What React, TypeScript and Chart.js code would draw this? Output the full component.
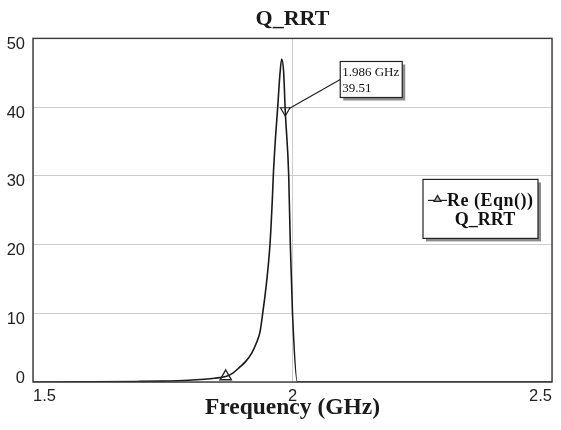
import { useEffect, useRef } from 'react';
import { Chart, registerables } from 'chart.js';

Chart.register(...registerables);

const chartTitle = 'Q_RRT';
const xAxisTitle = 'Frequency (GHz)';
const seriesName = 'Re (Eqn())';
const seriesSub = 'Q_RRT';

const freqs = [
  1.5, 1.6, 1.7, 1.75, 1.8, 1.83, 1.85, 1.8713, 1.885, 1.8988, 1.91, 1.9214, 1.93, 1.9374,
  1.9426, 1.95, 1.9566, 1.9611, 1.963, 1.9672, 1.9715, 1.9755, 1.9792, 1.983, 1.986, 1.9927,
  1.9958, 2.0, 2.0093, 2.1, 2.3, 2.5,
];
const qValues = [
  0.0, 0.03, 0.08, 0.13, 0.25, 0.4, 0.55, 0.8, 1.3, 2.2, 3.0, 4.2, 5.6, 7.3,
  10.0, 14.5, 20.0, 26.5, 30.0, 35.5, 40.0, 44.5, 47.0, 45.0, 39.51, 30.0,
  20.0, 10.0, 0.0, 0.0, 0.0, 0.0,
];

const xTickValues = [1.5, 2, 2.5];
const xTickLabels = ['1.5', '2', '2.5'];
const yTickValues = [0, 10, 20, 30, 40, 50];
const yTickLabels = ['0', '10', '20', '30', '40', '50'];

const traceMarkerFreq = [1.8713];
const traceMarkerValue = [0.8];
const markerFreq = [1.986];
const markerValue = [39.51];

const SERIF = '"Liberation Serif", "Times New Roman", serif';
const SANS = '"Liberation Sans", Arial, sans-serif';

function drawTriangle(ctx: CanvasRenderingContext2D, x: number, y: number, r: number) {
  ctx.beginPath();
  ctx.moveTo(x, y - r);
  ctx.lineTo(x + r * 0.866, y + r * 0.5);
  ctx.lineTo(x - r * 0.866, y + r * 0.5);
  ctx.closePath();
  ctx.fill();
  ctx.stroke();
}

const overlayPlugin = {
  id: 'overlay',
  afterDraw(chart: any) {
    const { ctx, chartArea: a, scales } = chart;
    ctx.save();
    // plot border
    ctx.strokeStyle = '#3a3a3a';
    ctx.lineWidth = 1.4;
    ctx.strokeRect(a.left, a.top, a.right - a.left, a.bottom - a.top);

    // marker callout
    const px = scales.x.getPixelForValue(markerFreq[0]);
    const py = scales.y.getPixelForValue(markerValue[0]);
    const bx = px + 55;
    const by = py - 49;
    const bw = 62;
    const bh = 36;
    ctx.fillStyle = '#8c8c8c';
    ctx.fillRect(bx + 3, by + 3, bw, bh);
    ctx.fillStyle = '#ffffff';
    ctx.fillRect(bx, by, bw, bh);
    ctx.strokeStyle = '#222';
    ctx.lineWidth = 1.2;
    ctx.strokeRect(bx, by, bw, bh);
    ctx.beginPath();
    ctx.moveTo(px + 4, py - 2);
    ctx.lineTo(bx, by + bh / 2);
    ctx.stroke();
    ctx.fillStyle = '#111';
    ctx.font = `13px ${SERIF}`;
    ctx.textAlign = 'left';
    ctx.textBaseline = 'alphabetic';
    ctx.fillText(`${markerFreq[0].toFixed(3)} GHz`, bx + 2, by + 15);
    ctx.fillText(markerValue[0].toFixed(2), bx + 2, by + 31);

    // legend box
    const lx = a.right - 129;
    const ly = a.top + 141;
    const lw = 115;
    const lh = 59;
    ctx.fillStyle = '#8c8c8c';
    ctx.fillRect(lx + 3, ly + 3, lw, lh);
    ctx.fillStyle = '#ffffff';
    ctx.fillRect(lx, ly, lw, lh);
    ctx.strokeStyle = '#222';
    ctx.lineWidth = 1.2;
    ctx.strokeRect(lx, ly, lw, lh);
    ctx.beginPath();
    ctx.moveTo(lx + 5, ly + 21);
    ctx.lineTo(lx + 24, ly + 21);
    ctx.stroke();
    ctx.fillStyle = '#b5b5b5';
    drawTriangle(ctx, lx + 14.5, ly + 20, 4);
    ctx.fillStyle = '#111';
    ctx.font = `bold 18px ${SERIF}`;
    (ctx as any).letterSpacing = '0.5px';
    ctx.fillText(seriesName, lx + 24, ly + 27);
    (ctx as any).letterSpacing = '0px';
    ctx.textAlign = 'center';
    ctx.fillText(seriesSub, lx + 62, ly + 46);
    ctx.restore();
  },
};

export default function App() {
  const ref = useRef<HTMLCanvasElement>(null);
  useEffect(() => {
    document.body.style.margin = '0';
    const canvas = ref.current;
    if (!canvas) return;
    const chart = new Chart(canvas, {
      type: 'scatter',
      data: {
        datasets: [
          {
            label: seriesName,
            data: freqs.map((f, i) => ({ x: f, y: qValues[i] })),
            showLine: true,
            borderColor: '#1a1a1a',
            borderWidth: 1.6,
            pointRadius: 0,
            cubicInterpolationMode: 'monotone',
            order: 3,
          } as any,
          {
            label: 'trace marker',
            data: traceMarkerFreq.map((f, i) => ({ x: f, y: traceMarkerValue[i] })),
            pointStyle: 'triangle',
            pointRadius: 6.5,
            borderColor: '#222',
            borderWidth: 1.4,
            backgroundColor: 'rgba(255,255,255,0)',
            order: 2,
          },
          {
            label: 'marker',
            data: markerFreq.map((f, i) => ({ x: f, y: markerValue[i] })),
            pointStyle: 'triangle',
            rotation: 180,
            pointRadius: 5.5,
            borderColor: '#222',
            borderWidth: 1.2,
            backgroundColor: 'rgba(255,255,255,0)',
            order: 1,
          },
        ],
      },
      options: {
        responsive: false,
        animation: false,
        layout: { padding: { top: 0, right: 9, left: 0, bottom: 0 } },
        plugins: {
          legend: { display: false },
          tooltip: { enabled: false },
          title: {
            display: true,
            text: chartTitle,
            fullSize: false,
            color: '#1a1a1a',
            font: { family: SERIF, size: 22, weight: 'bold' },
            padding: { top: 6, bottom: 6 },
          },
        },
        scales: {
          x: {
            type: 'linear',
            min: 1.5,
            max: 2.5,
            afterFit: (s: any) => {
              s.height = 48;
              s.paddingLeft = 0;
              s.paddingRight = 0;
            },
            afterBuildTicks: (s: any) => {
              s.ticks = xTickValues.map((v) => ({ value: v }));
            },
            ticks: {
              padding: 5,
              align: 'inner',
              color: '#222',
              maxRotation: 0,
              font: { family: SANS, size: 16.5 },
              callback: (v: any) => xTickLabels[xTickValues.indexOf(Number(v))] ?? '',
            },
            grid: { color: '#cccccc', lineWidth: 1, drawTicks: false },
            border: { display: false },
            title: {
              display: true,
              text: xAxisTitle,
              color: '#1a1a1a',
              font: { family: SERIF, size: 23.5, weight: 'bold' },
              padding: { top: 0, bottom: 8 },
            },
          },
          y: {
            type: 'linear',
            min: 0,
            max: 50,
            afterFit: (s: any) => {
              s.width = 33;
            },
            afterBuildTicks: (s: any) => {
              s.ticks = yTickValues.map((v) => ({ value: v }));
            },
            ticks: {
              padding: 8,
              color: '#222',
              labelOffset: 6,
              font: { family: SANS, size: 16.5 },
              callback: (v: any) => {
                const label = yTickLabels[yTickValues.indexOf(Number(v))] ?? '';
                // the bottom label sits slightly above its gridline, as in the reference
                return Number(v) === 0 ? [label, ''] : label;
              },
            },
            grid: { color: '#cccccc', lineWidth: 1, drawTicks: false },
            border: { display: false },
          },
        },
      },
      plugins: [overlayPlugin],
    } as any);
    return () => chart.destroy();
  }, []);
  return (
    <div style={{ width: 561, height: 430 }}>
      <canvas ref={ref} width={561} height={430} style={{ display: 'block' }} />
    </div>
  );
}
